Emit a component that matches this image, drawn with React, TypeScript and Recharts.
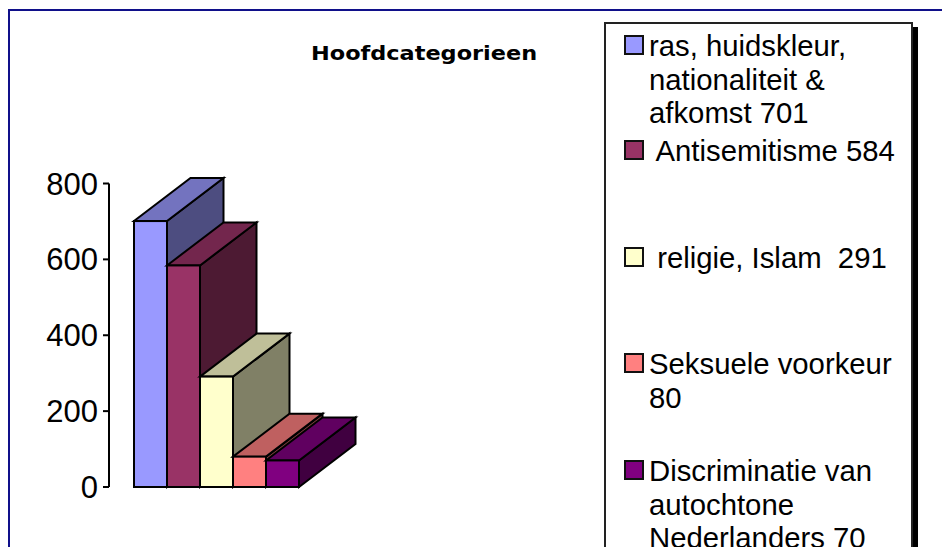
import { BarChart, Bar, YAxis, XAxis, Legend } from 'recharts';

const title = 'Hoofdcategorieen';
const seriesKeys = ['ras', 'anti', 'religie', 'seks', 'autochtoon'];
const seriesValues = [701, 584, 291, 80, 70];
const seriesLabels = [
  'ras, huidskleur,\nnationaliteit &\nafkomst 701',
  ' Antisemitisme 584',
  ' religie, Islam  291',
  'Seksuele voorkeur\n80',
  'Discriminatie van\nautochtone\nNederlanders 70',
];
const seriesColors = ['#9999FF', '#993366', '#FFFFCC', '#FF8080', '#800080'];
const yTicks = [0, 200, 400, 600, 800];

const legendTops = [12, 117, 224, 330, 437];

const row: Record<string, any> = { name: '' };
seriesKeys.forEach((k, i) => {
  row[k] = seriesValues[i];
});
const data = [row];

const DEPTH_X = 56.5;
const DEPTH_Y = 43;

function shade(hex: string, f: number) {
  const n = parseInt(hex.slice(1), 16);
  const r = Math.round(((n >> 16) & 255) * f);
  const g = Math.round(((n >> 8) & 255) * f);
  const b = Math.round((n & 255) * f);
  return `rgb(${r},${g},${b})`;
}

const Box3D = (props: any) => {
  const { x, y, width, height, fill } = props;
  const x2 = x + width;
  const y2 = y + height;
  const stroke = { stroke: '#000', strokeWidth: 2, strokeLinejoin: 'miter' as const };
  return (
    <g>
      <polygon
        points={`${x2},${y} ${x2 + DEPTH_X},${y - DEPTH_Y} ${x2 + DEPTH_X},${y2 - DEPTH_Y} ${x2},${y2}`}
        fill={shade(fill, 0.5)}
        {...stroke}
      />
      <polygon
        points={`${x},${y} ${x + DEPTH_X},${y - DEPTH_Y} ${x2 + DEPTH_X},${y - DEPTH_Y} ${x2},${y}`}
        fill={shade(fill, 0.75)}
        {...stroke}
      />
      <rect x={x} y={y} width={width} height={height} fill={fill} {...stroke} />
    </g>
  );
};

const LegendBox = ({ payload }: any) => (
  <div
    style={{
      position: 'relative',
      width: 309,
      height: 600,
      boxSizing: 'border-box',
      border: '2px solid #222',
      background: '#fff',
      boxShadow: '5px 5px 0 #000',
      fontFamily: '"Liberation Sans", Arial, sans-serif',
      fontSize: 29.3,
      lineHeight: '33.5px',
      color: '#000',
    }}
  >
    {(payload || []).map((p: any, i: number) => (
      <div key={p.value} style={{ position: 'absolute', left: 18, top: legendTops[i] - 2 }}>
        <span
          style={{
            position: 'absolute',
            left: 0,
            top: 1,
            width: 20,
            height: 20,
            boxSizing: 'border-box',
            border: '2px solid #111',
            background: p.color,
          }}
        />
        <span style={{ position: 'absolute', left: 25, top: -5, whiteSpace: 'pre' }}>{p.value}</span>
      </div>
    ))}
  </div>
);

export default function App() {
  return (
    <div
      style={{
        position: 'fixed',
        left: 0,
        top: 0,
        width: 942,
        height: 547,
        overflow: 'hidden',
        background: '#fff',
      }}
    >
      <div
        style={{
          position: 'absolute',
          left: 8,
          top: 9,
          width: 940,
          height: 540,
          borderTop: '2px solid #10108a',
          borderLeft: '2px solid #10108a',
        }}
      />
      <div
        style={{
          position: 'absolute',
          left: 311,
          top: 41,
          fontFamily: '"DejaVu Sans", Verdana, sans-serif',
          fontWeight: 700,
          fontSize: 20,
          lineHeight: '24px',
          color: '#000',
          whiteSpace: 'nowrap',
          transform: 'scaleX(1.12)',
          transformOrigin: 'left center',
        }}
      >
        {title}
      </div>
      <BarChart
        width={942}
        height={547}
        data={data}
        barCategoryGap={25}
        barGap={0}
        margin={{ top: 183.5, right: 618.5, bottom: 60, left: 0 }}
        style={{ position: 'absolute', left: 0, top: 0 }}
      >
        <XAxis dataKey="name" hide />
        <YAxis
          width={109}
          domain={[0, 800]}
          ticks={yTicks}
          interval={0}
          tickSize={6}
          tickMargin={5}
          axisLine={{ stroke: '#000', strokeWidth: 2 }}
          tickLine={{ stroke: '#000', strokeWidth: 2 }}
          tick={{ fontSize: 31, fill: '#000', fontFamily: '"Liberation Sans", Arial, sans-serif' }}
        />
        <Legend
          layout="vertical"
          align="center"
          verticalAlign="middle"
          itemSorter={null}
          content={<LegendBox />}
          wrapperStyle={{ left: 604, top: 22, width: 309, height: 600, right: 'auto', bottom: 'auto' }}
        />
        {seriesKeys.map((k, i) => (
          <Bar
            key={k}
            dataKey={k}
            name={seriesLabels[i]}
            fill={seriesColors[i]}
            shape={<Box3D />}
            isAnimationActive={false}
          />
        ))}
      </BarChart>
    </div>
  );
}
